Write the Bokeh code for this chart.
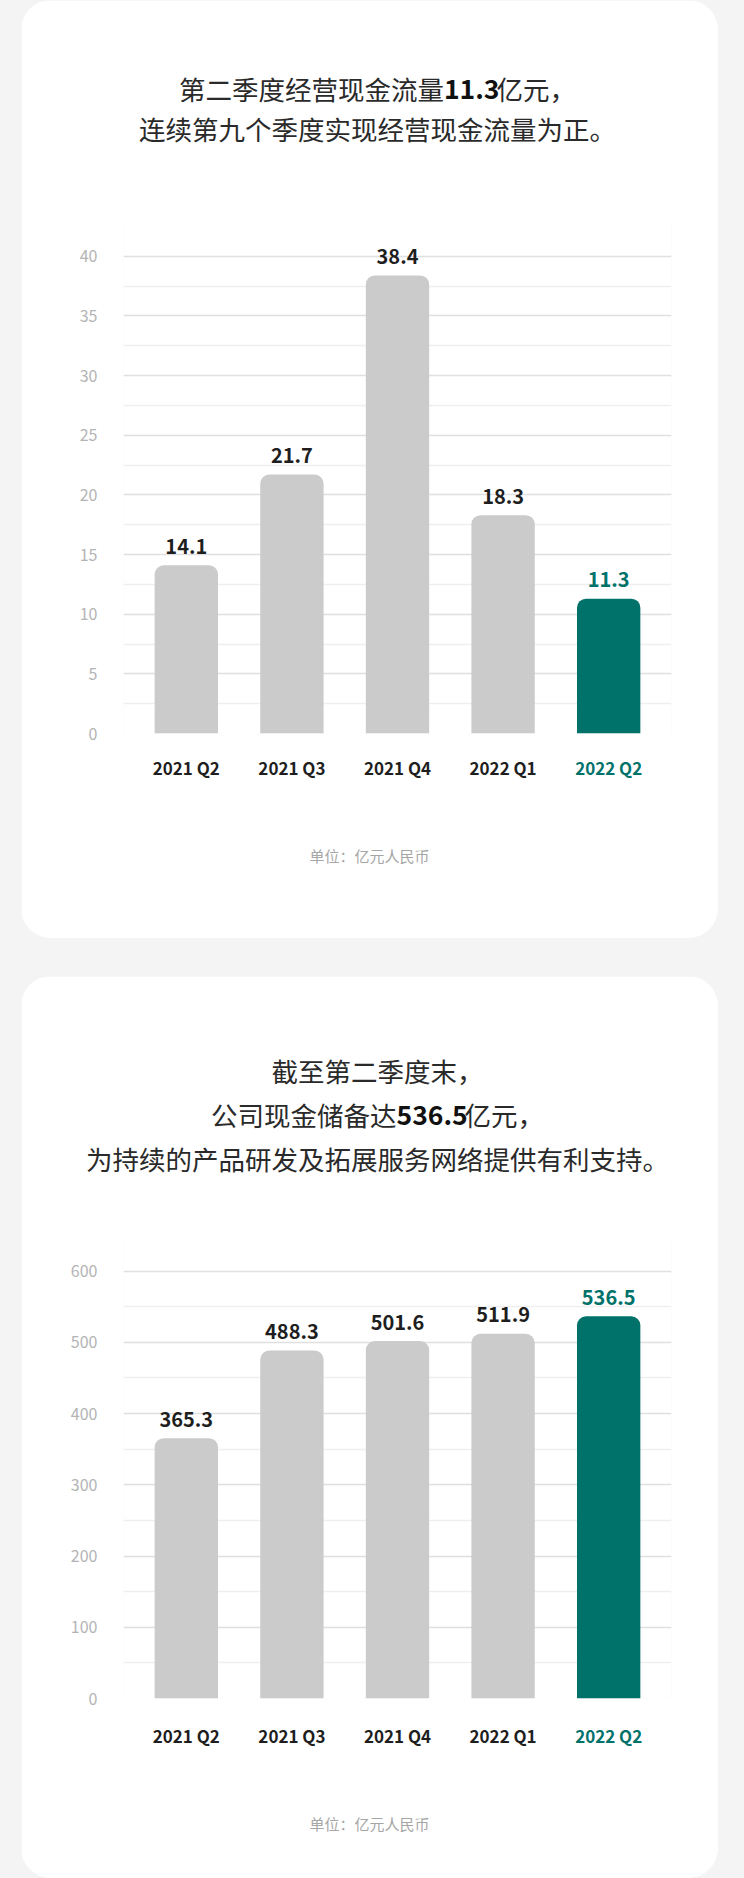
from bokeh.plotting import figure
from bokeh.models import ColumnDataSource, LabelSet, Label, FixedTicker, Range1d
from bokeh.layouts import column
from bokeh.core.properties import value, field
from bokeh.embed import file_html
from bokeh.resources import INLINE

# ---------------- data ----------------
categories = ["2021 Q2", "2021 Q3", "2021 Q4", "2022 Q1", "2022 Q2"]
cash_flow = [14.1, 21.7, 38.4, 18.3, 11.3]          # 经营现金流量 (亿元)
cash_reserve = [365.3, 488.3, 501.6, 511.9, 536.5]  # 现金储备 (亿元)

flow_ticks = [0, 5, 10, 15, 20, 25, 30, 35, 40]
flow_minor = [2.5, 7.5, 12.5, 17.5, 22.5, 27.5, 32.5, 37.5]
reserve_ticks = [0, 100, 200, 300, 400, 500, 600]
reserve_minor = [50, 150, 250, 350, 450, 550]

unit_text = "单位：亿元人民币"
title1_lines = [["第二季度经营现金流量", "11.3", "亿元，"],
                ["连续第九个季度实现经营现金流量为正。"]]
title2_lines = [["截至第二季度末，"],
                ["公司现金储备达", "536.5", "亿元，"],
                ["为持续的产品研发及拓展服务网络提供有利支持。"]]

# ---------------- style ----------------
FONT = "Noto Sans CJK SC"
GRAY_BAR = "#cbcbcb"
TEAL = "#00726a"
DARK = "#1e1e1e"
TITLE_C = "#2a2a2a"
PAGE_BG = "#f4f4f4"

CARD_W = 697
BL, BR = 102, 47
TITLE_PX = 26.5
CX = 356  # horizontal centre of the titles, canvas px


def seg_width(s):
    w = 0.0
    for ch in s:
        if ch.isdigit():
            w += 0.57 * TITLE_PX
        elif ch == ".":
            w += 0.28 * TITLE_PX
        else:
            w += TITLE_PX
    return w


def canvas_label(p, side, x, y, text, **kw):
    opts = dict(x=x, y=y, x_units="canvas", y_units="canvas", text=text,
                text_baseline="middle", text_font=FONT)
    opts.update(kw)
    p.add_layout(Label(**opts), side)


def make_card(values, ticks, minor, ymax, height, b_top, b_bottom,
              title_lines, title_ys, cat_y, unit_y):
    p = figure(width=CARD_W, height=height,
               x_range=Range1d(-0.595, 4.595), y_range=Range1d(0, ymax),
               x_axis_type=None, output_backend="svg", toolbar_location=None,
               min_border_left=BL, min_border_right=BR,
               min_border_top=b_top, min_border_bottom=b_bottom,
               background_fill_color="white", border_fill_color="white",
               outline_line_color=None, margin=(0, 0, 0, 21),
               styles={"border-radius": "30px", "overflow": "hidden"})

    tk = FixedTicker(ticks=ticks, minor_ticks=minor)
    ax = p.yaxis[0]
    ax.ticker = tk
    ax.axis_line_color = None
    ax.major_tick_line_color = None
    ax.minor_tick_line_color = None
    ax.major_tick_out = 0
    ax.major_tick_in = 0
    ax.minor_tick_out = 0
    ax.major_label_standoff = 26
    ax.major_label_text_font = FONT
    ax.major_label_text_font_size = "16px"
    ax.major_label_text_color = "#b4b4b4"

    g = p.ygrid[0]
    g.ticker = tk
    g.grid_line_color = "#e0e0e0"
    g.grid_line_width = 1.3
    g.minor_grid_line_color = "#efefef"
    g.minor_grid_line_width = 1.3

    n = len(categories)
    bar_colors = [GRAY_BAR] * (n - 1) + [TEAL]
    val_colors = [DARK] * (n - 1) + [TEAL]
    src = ColumnDataSource(dict(
        x=list(range(n)), v=values,
        label=[f"{v:.1f}" for v in values],
        bc=bar_colors, lc=val_colors))

    p.vbar(x="x", top="v", bottom=0, width=0.6, fill_color="bc", line_color=None,
           border_radius=(9, 9, 0, 0), source=src)

    p.add_layout(LabelSet(x="x", y="v", text="label", source=src, y_offset=19,
                          text_align="center", text_baseline="middle",
                          text_font=value(FONT), text_font_style="bold",
                          text_font_size="20px", text_color=field("lc")))

    # category labels below the axis (x from the data scale)
    for i, (c, col) in enumerate(zip(categories, val_colors)):
        p.add_layout(Label(x=i, x_units="data", y=cat_y, y_units="canvas", text=c,
                           text_align="center", text_baseline="middle",
                           text_font=FONT, text_font_style="bold",
                           text_font_size="17px", text_color=col), "below")

    # unit note
    canvas_label(p, "below", 348, unit_y, unit_text, text_align="center",
                 text_font_size="15px", text_color="#a6a6a6")

    # titles
    for parts, cy in zip(title_lines, title_ys):
        if len(parts) == 1:
            canvas_label(p, "above", CX, cy, parts[0], text_align="center",
                         text_font_size=f"{TITLE_PX}px", text_color=TITLE_C)
        else:
            widths = [seg_width(s) for s in parts]
            x0 = CX - sum(widths) / 2
            for i, (s, w) in enumerate(zip(parts, widths)):
                canvas_label(p, "above", x0, cy, s, text_align="left",
                             text_font_size=f"{TITLE_PX}px",
                             text_font_style="bold" if i == 1 else "normal",
                             text_color="#111111" if i == 1 else TITLE_C)
                x0 += w
    return p


p1 = make_card(cash_flow, flow_ticks, flow_minor, 43, 938, 220, 205,
               title1_lines, [88, 128], 767, 855)
p2 = make_card(cash_reserve, reserve_ticks, reserve_minor, 640, 902, 266, 180,
               title2_lines, [94, 138, 182], 759, 847)

layout = column(p1, p2, spacing=38, width=744,
                styles={"background-color": PAGE_BG})

open("out.html", "w").write(file_html(layout, INLINE))
